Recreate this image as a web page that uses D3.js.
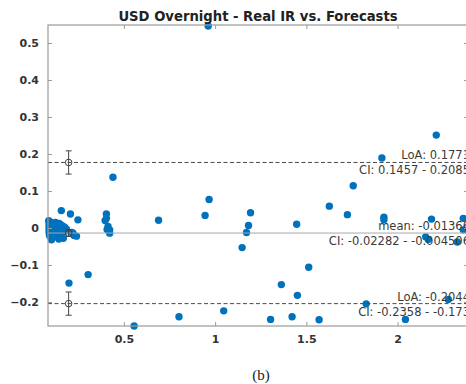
<!DOCTYPE html>
<html>
<head>
<meta charset="utf-8">
<script src="https://cdn.jsdelivr.net/npm/d3@7"></script>
<style>
  html, body { margin: 0; padding: 0; background: #fff; overflow: hidden; }
  svg { display: block; }
</style>
</head>
<body>
<script>
// ---- data ----
const title = "USD Overnight - Real IR vs. Forecasts";
const caption = "(b)";
const xTicks = [0.5, 1, 1.5, 2];
const yTicks = [-0.2, -0.1, 0, 0.1, 0.2, 0.3, 0.4, 0.5];
const xDomain = [0.084, 2.386];
const yDomain = [-0.2649, 0.5486];

// means (x) of each pair
const meanX = [
  0.088,0.090,0.090,0.090,0.090,0.092,0.095,0.097,0.098,0.100,0.100,0.103,0.105,0.108,0.110,0.112,
  0.115,0.118,0.120,0.122,0.125,0.128,0.130,0.133,0.135,0.138,0.140,0.143,0.145,0.148,0.150,0.155,
  0.158,0.160,0.165,0.168,0.170,0.175,0.180,0.185,0.215,0.227,
  0.440,0.157,0.207,0.248,0.404,0.404,0.397,0.413,0.422,0.422,0.408,0.690,0.945,0.967,0.962,
  1.194,1.183,1.172,1.148,0.304,0.199,0.556,0.802,1.047,1.757,1.626,1.725,1.447,1.925,1.925,
  2.186,2.360,2.154,2.168,2.327,2.360,1.513,1.363,1.451,1.304,1.422,1.570,1.828,2.043,2.278,
  2.212,1.914,0.221,0.240
];
// differences (y) of each pair
const diffY = [
  0.020,0.012,0.004,-0.004,-0.012,-0.020,0.016,0.008,0.000,-0.008,-0.025,-0.032,0.014,0.006,-0.002,-0.015,
  0.010,0.002,-0.008,-0.022,0.015,0.005,-0.003,-0.018,0.010,0.000,-0.010,-0.030,0.012,0.004,-0.006,0.008,
  -0.002,-0.015,0.005,-0.028,-0.010,0.002,-0.008,-0.003,-0.012,-0.020,
  0.137,0.047,0.038,0.022,0.038,0.026,0.020,0.004,-0.005,-0.014,-0.004,0.021,0.034,0.077,0.546,
  0.041,0.007,-0.012,-0.053,-0.126,-0.149,-0.265,-0.240,-0.224,0.114,0.059,0.036,0.010,0.029,0.022,
  0.024,0.026,-0.024,-0.031,-0.038,-0.005,-0.106,-0.153,-0.182,-0.247,-0.240,-0.248,-0.205,-0.247,-0.193,
  0.251,0.189,-0.014,-0.022
];

// statistics
const statNames = ["upperLoA", "mean", "lowerLoA"];
const statValues = [0.1771, -0.01366, -0.2044];
const statCILow = [0.1457, -0.02282, -0.2358];
const statCIHigh = [0.2085, -0.004506, -0.173];
const statLabels = ["LoA: 0.1771", "mean: -0.01366", "LoA: -0.2044"];
const ciLabels = ["CI: 0.1457 - 0.2085", "CI: -0.02282 - -0.004506", "CI: -0.2358 - -0.173"];
const statDashed = [true, false, true];
const errBarX = 0.197;

// ---- layout ----
const W = 466, H = 384;
const M = { left: 48, right: 468, top: 25, bottom: 326 };
const blue = "#0072BD";

const svg = d3.select("body").append("svg").attr("width", W).attr("height", H);

const x = d3.scaleLinear().domain(xDomain).range([M.left, M.right]);
const y = d3.scaleLinear().domain(yDomain).range([M.bottom, M.top]);

// points
svg.append("g").selectAll("circle")
  .data(meanX.map((d, i) => [d, diffY[i]]))
  .join("circle")
  .attr("cx", d => x(d[0]))
  .attr("cy", d => y(d[1]))
  .attr("r", 3.7)
  .attr("fill", blue);

// stat lines
const lines = svg.append("g");
statValues.forEach((v, i) => {
  lines.append("line")
    .attr("x1", M.left).attr("x2", M.right)
    .attr("y1", y(v)).attr("y2", y(v))
    .attr("stroke", statDashed[i] ? "#4a4a4a" : "#a8a8a8")
    .attr("stroke-width", 1)
    .attr("stroke-dasharray", statDashed[i] ? "4,2.5" : null);
});

// error bars with open circles
const eb = svg.append("g").attr("stroke", "#444").attr("fill", "none").attr("stroke-width", 1);
statValues.forEach((v, i) => {
  const cx = x(errBarX);
  eb.append("line").attr("x1", cx).attr("x2", cx).attr("y1", y(statCILow[i])).attr("y2", y(statCIHigh[i]));
  [statCILow[i], statCIHigh[i]].forEach(c => {
    eb.append("line").attr("x1", cx - 3).attr("x2", cx + 3).attr("y1", y(c)).attr("y2", y(c));
  });
  eb.append("circle").attr("cx", cx).attr("cy", y(v)).attr("r", 3.3);
});

// annotations
const ann = svg.append("g")
  .attr("font-family", "DejaVu Sans, sans-serif")
  .attr("font-size", 11.5)
  .attr("fill", "#3a3a3a")
  .attr("text-anchor", "end");
statValues.forEach((v, i) => {
  ann.append("text").attr("x", 470).attr("y", y(v) - 3).text(statLabels[i]);
  ann.append("text").attr("x", 470).attr("y", y(v) + 12).text(ciLabels[i]);
});

// axes box
const axisColor = "#9a9a9a";
const box = svg.append("g").attr("stroke", axisColor).attr("stroke-width", 1.2).attr("fill", "none");
box.append("rect").attr("x", M.left).attr("y", M.top).attr("width", M.right - M.left).attr("height", M.bottom - M.top);

const xAxisB = d3.axisBottom(x).tickValues(xTicks).tickSize(-4).tickPadding(9).tickFormat(d3.format("~g"));
const xAxisT = d3.axisTop(x).tickValues(xTicks).tickSize(-4).tickFormat("");
const yAxisL = d3.axisLeft(y).tickValues(yTicks).tickSize(-4).tickPadding(9).tickFormat(d3.format("~g"));
const yAxisR = d3.axisRight(y).tickValues(yTicks).tickSize(-4).tickFormat("");

function style(g) {
  g.select(".domain").remove();
  g.selectAll(".tick line").attr("stroke", axisColor);
  g.selectAll(".tick text")
    .attr("font-family", "DejaVu Sans, sans-serif")
    .attr("font-size", 11)
    .attr("font-weight", "bold")
    .attr("fill", "#333");
}
svg.append("g").attr("transform", `translate(0,${M.bottom})`).call(xAxisB).call(style);
svg.append("g").attr("transform", `translate(0,${M.top})`).call(xAxisT).call(style);
svg.append("g").attr("transform", `translate(${M.left},0)`).call(yAxisL).call(style);
svg.append("g").attr("transform", `translate(${M.right},0)`).call(yAxisR).call(style);

// title
svg.append("text")
  .attr("x", (M.left + M.right) / 2)
  .attr("y", 21)
  .attr("text-anchor", "middle")
  .attr("font-family", "DejaVu Sans, sans-serif")
  .attr("font-weight", "bold")
  .attr("font-size", 13.2)
  .attr("fill", "#222")
  .text(title);

// caption
svg.append("text")
  .attr("x", 261)
  .attr("y", 380)
  .attr("text-anchor", "middle")
  .attr("font-family", "Liberation Serif, serif")
  .attr("font-size", 15)
  .attr("fill", "#222")
  .text(caption);
</script>
</body>
</html>
